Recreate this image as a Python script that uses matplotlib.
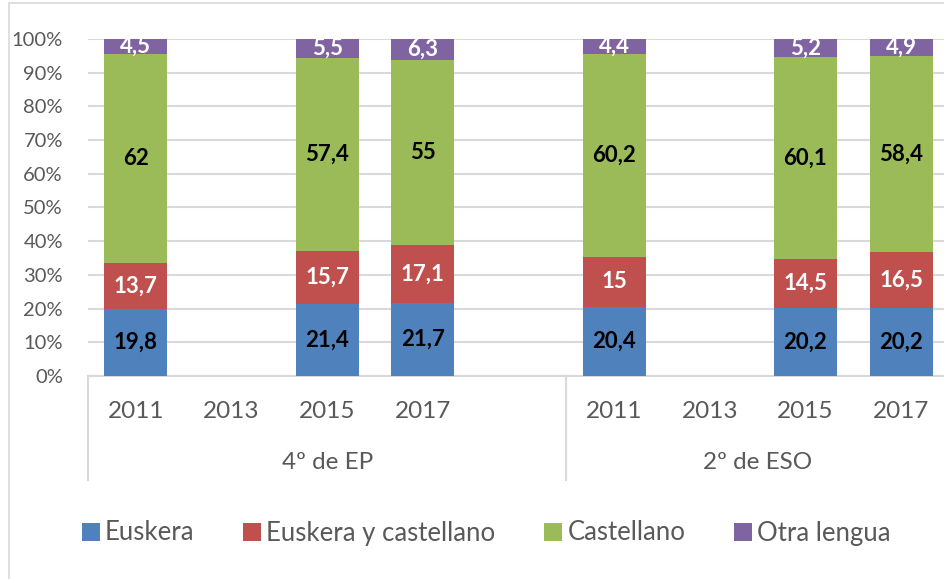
import numpy as np
import matplotlib
matplotlib.use("Agg")
import matplotlib.pyplot as plt
from matplotlib.ticker import PercentFormatter, MultipleLocator
from matplotlib.patches import Rectangle

plt.rcParams['font.family'] = ['Lato', 'DejaVu Sans']

# data (one slot per year, an empty slot closes the first group)
groups = ["4º de EP", "2º de ESO"]
years = ["2011", "2013", "2015", "2017"]
slot_labels = ["2011", "2013", "2015", "2017", "", "2011", "2013", "2015", "2017"]
series = ["Euskera", "Euskera y castellano", "Castellano", "Otra lengua"]
nan = np.nan
euskera = [19.8, nan, 21.4, 21.7, nan, 20.4, nan, 20.2, 20.2]
euskera_cast = [13.7, nan, 15.7, 17.1, nan, 15, nan, 14.5, 16.5]
castellano = [62, nan, 57.4, 55, nan, 60.2, nan, 60.1, 58.4]
otra = [4.5, nan, 5.5, 6.3, nan, 4.4, nan, 5.2, 4.9]

colors = ["#4F81BD", "#C0504D", "#9BBB59", "#8064A2"]
label_colors = ["black", "white", "black", "white"]
grey = "#D9D9D9"
text_grey = "#595959"

vals = np.array([euskera, euskera_cast, castellano, otra], dtype=float)
totals = np.nansum(vals, axis=0)
totals[totals == 0] = 1
shares = vals / totals
x = np.arange(len(slot_labels))

fig = plt.figure(figsize=(9.44, 5.79), dpi=100)
# light chart border
fig.patches.append(Rectangle((9 / 944, -0.1), 1.2, 1 - 3 / 579 + 0.1, transform=fig.transFigure,
                             fill=False, edgecolor=grey, linewidth=1.2))
ax = fig.add_axes([88 / 944, 1 - 376 / 579, 861 / 944, 337 / 579])

bottom = np.zeros(len(x))
for i, name in enumerate(series):
    h = np.nan_to_num(shares[i])
    ax.bar(x, h, 0.66, bottom=bottom, color=colors[i], label=name, zorder=3)
    for xi, raw, b, hh in zip(x, vals[i], bottom, h):
        if np.isnan(raw):
            continue
        txt = f"{raw:g}".replace(".", ",")
        ax.text(xi, b + hh / 2, txt, ha="center", va="center", color=label_colors[i],
                fontsize=16, fontweight="bold", zorder=4)
    bottom = bottom + h

ax.set_xlim(-0.5, len(x) - 0.5)
ax.set_ylim(0, 1)
ax.yaxis.set_major_locator(MultipleLocator(0.1))
ax.yaxis.set_major_formatter(PercentFormatter(1.0, decimals=0))
ax.tick_params(axis="y", length=0, pad=18, labelsize=14.5, labelcolor=text_grey)
ax.grid(axis="y", color=grey, linewidth=1.5, zorder=0)
ax.set_xticks([])
for s in ["left", "right", "top"]:
    ax.spines[s].set_visible(False)
ax.spines["bottom"].set_color(grey)
ax.spines["bottom"].set_linewidth(1.5)

# category labels: years and groups
trans = ax.get_xaxis_transform()
for xi, lab in zip(x, slot_labels):
    ax.text(xi, -0.104, lab, ha="center", va="center", fontsize=17.5, color=text_grey,
            transform=trans, clip_on=False)
group_sizes = [5, 4]
start = -0.5
for g, n in zip(groups, group_sizes):
    ax.plot([start, start], [0, -0.31], color=grey, linewidth=1.5, transform=trans, clip_on=False)
    ax.text(start + n / 2, -0.258, g, ha="center", va="center", fontsize=17.5, color=text_grey,
            transform=trans, clip_on=False)
    start += n
ax.plot([start, start], [0, -0.31], color=grey, linewidth=1.5, transform=trans, clip_on=False)

fig.legend(loc="center", bbox_to_anchor=(0.515, 1 - 533 / 579), ncol=4, frameon=False,
           fontsize=18.5, handlelength=0.7, handleheight=0.7, handletextpad=0.2,
           columnspacing=1.9, labelcolor=text_grey)

fig.savefig("out.png", dpi=100)
